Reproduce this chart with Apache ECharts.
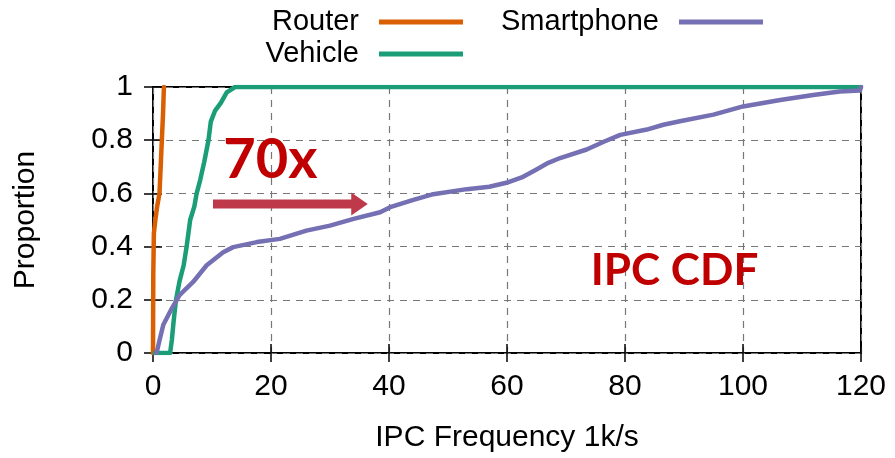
<!DOCTYPE html>
<html>
<head>
<meta charset="utf-8">
<script src="https://cdn.jsdelivr.net/npm/echarts@6/dist/echarts.min.js"></script>
<style>
html,body{margin:0;padding:0;background:#fff;}
#chart{width:895px;height:458px;}
</style>
</head>
<body>
<div id="chart"></div>
<script>
const seriesNames = ['Router', 'Vehicle', 'Smartphone'];

const routerX = [0, 0.05, 0.15, 0.4, 0.7, 1.1, 1.3, 1.5, 1.7, 1.85];
const routerY = [0, 0.3, 0.45, 0.5, 0.55, 0.6, 0.7, 0.8, 0.9, 1.0];

const vehicleX = [0.3, 2.9, 3.2, 3.5, 3.9, 4.5, 5.2, 5.7, 6.3, 7.0, 7.4, 8.0, 8.7, 9.4, 9.8, 10.5, 11.5, 12.5, 13.9, 120];
const vehicleY = [0, 0, 0.05, 0.12, 0.2, 0.27, 0.33, 0.4, 0.5, 0.55, 0.6, 0.65, 0.72, 0.8, 0.87, 0.91, 0.94, 0.98, 1.0, 1.0];

const phoneX = [0.6, 1.2, 1.75, 3.2, 4.5, 6.8, 9.1, 11.9, 13.6, 17.6, 21.5, 26.0, 30.0, 34.0, 38.5, 40.2, 44.0, 47.5, 53.2, 57.0, 59.9, 62.5, 65.0, 67.0, 69.0, 73.5, 76.5, 79.2, 83.7, 86.5, 89.3, 95.0, 100.0, 106.3, 111.9, 116.4, 119.8, 120];
const phoneY = [0, 0.056, 0.106, 0.168, 0.218, 0.267, 0.33, 0.379, 0.398, 0.417, 0.429, 0.46, 0.479, 0.504, 0.529, 0.548, 0.575, 0.597, 0.616, 0.625, 0.64, 0.66, 0.69, 0.715, 0.733, 0.765, 0.795, 0.82, 0.84, 0.858, 0.871, 0.896, 0.927, 0.951, 0.97, 0.983, 0.987, 1.0];

const xTickLabels = ['0', '20', '40', '60', '80', '100', '120'];
const yTickLabels = ['0', '0.2', '0.4', '0.6', '0.8', '1'];

const xTitle = 'IPC Frequency 1k/s';
const yTitle = 'Proportion';
const annoText1 = '70x';
const annoText2 = 'IPC CDF';

const colors = ['#d95f02', '#1b9e77', '#7570b3'];
const FONT = '"Liberation Sans", Arial, Helvetica, sans-serif';

function zip(xs, ys) { return xs.map((x, i) => [x, ys[i]]); }

const chart = echarts.init(document.getElementById('chart'), null, {renderer: 'canvas'});

function lineSeries(name, xs, ys, color) {
  return {
    name: name, type: 'line', data: zip(xs, ys),
    showSymbol: false, symbol: 'none',
    lineStyle: {color: color, width: 4.5, join: 'round', cap: 'round'},
    itemStyle: {color: color},
    z: 3, animation: false
  };
}

const tickStyle = {inside: true, length: 9, lineStyle: {color: '#000', width: 1.5}};
const legendCommon = {
  orient: 'vertical', align: 'right', top: 1, itemGap: 0,
  itemWidth: 84, itemHeight: 5, icon: 'rect',
  textStyle: {fontSize: 29, lineHeight: 32, fontFamily: FONT, color: '#000', padding: [0, 15, 0, 0]},
  selectedMode: false
};

chart.setOption({
  animation: false,
  backgroundColor: '#fff',
  grid: {left: 153, top: 87, right: 34, bottom: 103, show: true, borderColor: '#000', borderWidth: 2, backgroundColor: 'transparent'},
  legend: [
    Object.assign({}, legendCommon, {data: ['Router', 'Vehicle'], right: 427}),
    Object.assign({}, legendCommon, {data: ['Smartphone'], right: 127})
  ],
  xAxis: [{
    type: 'value', min: 0, max: 120, interval: 20,
    axisLine: {show: false},
    axisTick: tickStyle,
    axisLabel: {fontSize: 30, fontFamily: FONT, color: '#000', margin: 19,
      formatter: v => xTickLabels[Math.round(v / 20)]},
    splitLine: {show: true, lineStyle: {color: '#777', width: 1.2, type: [7, 6]}},
    name: xTitle, nameLocation: 'middle', nameGap: 70,
    nameTextStyle: {fontSize: 30, fontFamily: FONT, color: '#000'}
  }, {
    type: 'value', position: 'top', min: 0, max: 120, interval: 20,
    axisLine: {show: false}, axisTick: tickStyle, axisLabel: {show: false}, splitLine: {show: false}
  }],
  yAxis: [{
    type: 'value', min: 0, max: 1, interval: 0.2,
    axisLine: {show: false},
    axisTick: tickStyle,
    axisLabel: {fontSize: 30, fontFamily: FONT, color: '#000', margin: 20,
      formatter: v => yTickLabels[Math.round(v / 0.2)]},
    splitLine: {show: true, lineStyle: {color: '#777', width: 1.2, type: [7, 6]}},
    name: yTitle, nameLocation: 'middle', nameGap: 112,
    nameTextStyle: {fontSize: 30, fontFamily: FONT, color: '#000'}
  }, {
    type: 'value', position: 'right', min: 0, max: 1, interval: 0.2,
    axisLine: {show: false}, axisTick: tickStyle, axisLabel: {show: false}, splitLine: {show: false}
  }],
  series: [
    lineSeries(seriesNames[0], routerX, routerY, colors[0]),
    lineSeries(seriesNames[1], vehicleX, vehicleY, colors[1]),
    lineSeries(seriesNames[2], phoneX, phoneY, colors[2]),
    {
      type: 'custom', name: 'annotations', silent: true, z: 10, clip: false,
      data: [[0, 0]],
      renderItem: function (params, api) {
        const s = api.coord([10.17, 0.56]);
        const h = api.coord([33.6, 0.56]);
        const t = api.coord([36.4, 0.56]);
        const y = s[1];
        const a1 = api.coord([11.9, 0.727]);
        const a2 = api.coord([74.2, 0.31]);
        return {
          type: 'group',
          children: [
            {type: 'polygon', shape: {points: [[s[0], y - 4.5], [h[0], y - 4.5], [h[0], y - 11.5], [t[0], y], [h[0], y + 11.5], [h[0], y + 4.5], [s[0], y + 4.5]]},
             style: {fill: '#be3a4a'}},
            {type: 'text', x: a1[0], y: a1[1],
             style: {text: annoText1, fill: '#c00000', font: 'bold 56px Lato, "Open Sans", sans-serif', align: 'left', verticalAlign: 'middle'}},
            {type: 'text', x: a2[0], y: a2[1],
             style: {text: annoText2, fill: '#c00000', font: 'bold 44px Lato, "Open Sans", sans-serif', align: 'left', verticalAlign: 'middle'}}
          ]
        };
      }
    }
  ]
});
</script>
</body>
</html>
